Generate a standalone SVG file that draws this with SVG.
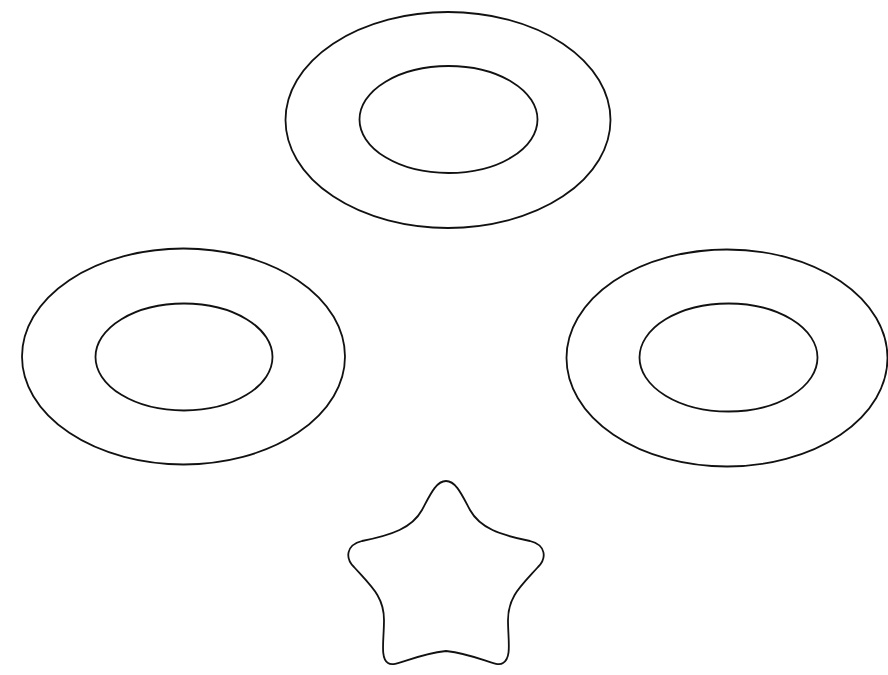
<svg xmlns="http://www.w3.org/2000/svg" width="888" height="675" viewBox="0 0 888 675">
<style>
.s{fill:none;stroke:#111;stroke-width:1.8}
</style>
<rect width="888" height="675" fill="#fff"/>
<g id="ring-top">
<ellipse class="s" cx="448" cy="120" rx="162.5" ry="108"/>
<ellipse class="s" cx="448.5" cy="119.5" rx="89" ry="53.5"/>
</g>
<g id="ring-left">
<ellipse class="s" cx="183.5" cy="356.5" rx="161.5" ry="108"/>
<ellipse class="s" cx="184" cy="357" rx="88.5" ry="53.5"/>
</g>
<g id="ring-right">
<ellipse class="s" cx="727" cy="358" rx="160.5" ry="108.5"/>
<ellipse class="s" cx="728.5" cy="357.5" rx="89" ry="54"/>
</g>
<g id="star">
<path class="s" stroke-width="2.2" d="M446,481 C456,481 462,495 470,510 C480,528 500,535 530,541 C546,545 547,558 538,567 C520,587 508,597 508,620 C508,640 512,658 503,663 C496,668 480,655 446,651 C412,655 395,668 388,663 C380,658 384,640 384,620 C384,597 372,587 354,567 C345,558 346,545 362,541 C392,535 412,528 422,510 C430,495 436,481 446,481 Z"/>
</g>
</svg>
